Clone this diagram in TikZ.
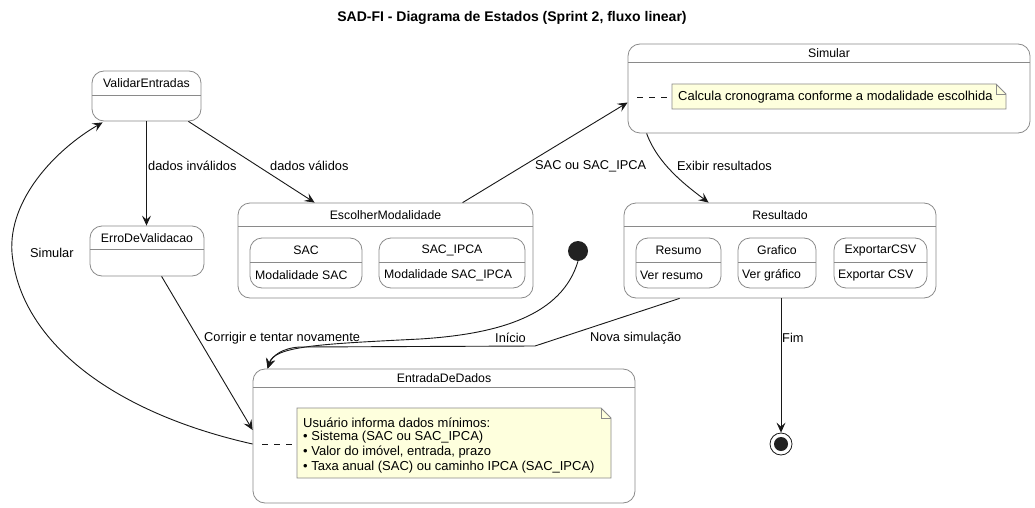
\documentclass[tikz,border=0pt]{standalone}
\usepackage{fontspec}
\setmainfont{Liberation Sans}
\usetikzlibrary{arrows.meta,calc,fit}
\definecolor{stborder}{HTML}{8A8A8A}
\definecolor{notefill}{HTML}{FEFFDD}
\definecolor{notebord}{HTML}{8A8A8A}
\definecolor{edgec}{HTML}{181818}
\definecolor{dotc}{HTML}{222222}
\newcommand\stbox[8]{% name, x1, y1, x2, y2, divider y, title, radius
  \node[stboxstyle, rounded corners=#8, fit={(#2,#3)(#4,#5)}] (#1) {};
  \draw[stborder, line width=0.8pt] (#2,#6) -- (#4,#6);
  \node[lbl] at ({(#2+#4)/2},{(#3+#6)/2+0.5}) {#7};
}
\begin{document}
\begin{tikzpicture}[x=1pt,y=-1pt,
  lbl/.style={inner sep=0pt, font=\fontsize{12.3}{14}\selectfont},
  lblw/.style={lbl, anchor=west},
  elbl/.style={inner sep=0pt, anchor=west, font=\fontsize{12.8}{15}\selectfont},
  nlbl/.style={inner sep=0pt, anchor=west, font=\fontsize{13}{15}\selectfont},
  stboxstyle/.style={draw=stborder, line width=0.8pt, inner sep=0pt, rectangle},
  edge/.style={draw=edgec, line width=0.9pt, -{Stealth[length=10pt,width=9pt,inset=4pt]}},
  notebox/.style={draw=notebord, fill=notefill, line width=0.8pt},
  notelink/.style={draw=edgec, line width=0.9pt, dash pattern=on 6pt off 6pt},
]
\useasboundingbox (0,0) rectangle (1035,508);
\fill[white] (0,0) rectangle (1035,508);

% title
\node[inner sep=0pt, font=\bfseries\fontsize{14}{16}\selectfont] (title) at (512,18) {SAD-FI - Diagrama de Estados (Sprint 2, fluxo linear)};

% states
\stbox{validar}{92}{71}{201}{121}{95}{ValidarEntradas}{12pt}
\stbox{erro}{90}{226}{204}{276}{249}{ErroDeValidacao}{12pt}
\stbox{escolher}{238}{203}{533}{298}{226}{EscolherModalidade}{12pt}
\stbox{sac}{250}{238}{362}{288}{262}{SAC}{12pt}
\stbox{sacipca}{379}{238}{525}{288}{262}{SAC\_IPCA}{12pt}
\node[lblw] (sacb) at (255,275) {Modalidade SAC};
\node[lblw] (sacipcab) at (384,275) {Modalidade SAC\_IPCA};

\stbox{simular}{628}{44}{1030}{133}{62}{Simular}{12pt}
\path[notebox] (672,84) -- (996,84) -- (1006,94) -- (1006,109) -- (672,109) -- cycle;
\draw[notebord, line width=0.8pt] (996,84) -- (996,94) -- (1006,94);
\node[nlbl] (note1) at (678,97.5) {Calcula cronograma conforme a modalidade escolhida};
\coordinate (n1a) at (637,97);
\coordinate (n1b) at (672,97);
\draw[notelink] (n1a) -- (n1b);

\stbox{resultado}{624}{203}{936}{298}{226}{Resultado}{12pt}
\stbox{resumo}{636}{238}{721}{288}{262}{Resumo}{12pt}
\stbox{grafico}{738}{238}{816}{288}{262}{Grafico}{12pt}
\stbox{exportar}{834}{238}{927}{288}{262}{ExportarCSV}{12pt}
\node[lblw] (resumob) at (640,275) {Ver resumo};
\node[lblw] (graficob) at (742,275) {Ver gráfico};
\node[lblw] (exportarb) at (838,275) {Exportar CSV};

\stbox{entrada}{253}{369}{635}{503}{387}{EntradaDeDados}{12pt}
\path[notebox] (297,408) -- (601,408) -- (611,418) -- (611,478) -- (297,478) -- cycle;
\draw[notebord, line width=0.8pt] (601,408) -- (601,418) -- (611,418);
\node[nlbl] (note2a) at (303,423) {Usuário informa dados mínimos:};
\node[nlbl] (note2b) at (303,437.5) {• Sistema (SAC ou SAC\_IPCA)};
\node[nlbl] (note2c) at (303,452.5) {• Valor do imóvel, entrada, prazo};
\node[nlbl] (note2d) at (303,467.5) {• Taxa anual (SAC) ou caminho IPCA (SAC\_IPCA)};
\coordinate (n2a) at (262,444);
\coordinate (n2b) at (297,444);
\draw[notelink] (n2a) -- (n2b);

% initial and final
\node[circle, fill=dotc, minimum size=20pt, inner sep=0pt] (init) at (578,251) {};
\node[circle, draw=edgec, line width=0.8pt, minimum size=22pt, inner sep=0pt] (final) at (781,444) {};
\node[circle, fill=dotc, minimum size=14pt, inner sep=0pt] (finaldot) at (781,444) {};

% transitions
\draw[edge] (validar.south) -- (validar.south |- erro.north);
\node[elbl] (l1) at (148,166) {dados inválidos};

\draw[edge] ($(validar.south east)+(-13,0)$) -- ($(escolher.north west)+(77,0)$);
\node[elbl] (l2) at (270,166) {dados válidos};

\draw[edge] ($(escolher.north west)+(225,0)$) -- ($(simular.west)+(0,14)$);
\node[elbl] (l3) at (535,166) {SAC ou SAC\_IPCA};

\draw[edge] ($(simular.south west)+(19,0)$) .. controls (658,165) and (688,187) .. ($(resultado.north west)+(85,0)$);
\node[elbl] (l4) at (677,166) {Exibir resultados};

\draw[edge] (resultado.south -| final.north) -- (final.north);
\node[elbl] (l5) at (782,338) {Fim};

\coordinate (entin) at ($(entrada.north west)+(15,0)$);
\draw[edge] (init.south) .. controls (562,315) and (500,334) .. (420,339) .. controls (320,344) and (274,346) .. (entin);
\node[elbl] (l6) at (495,338) {Início};

\draw[edge] ($(resultado.south west)+(56,0)$) -- (535,346) -- (300,347) .. controls (282,348) and (272,356) .. (entin);
\node[elbl] (l7) at (590,338) {Nova simulação};

\draw[edge] ($(erro.south west)+(72,0)$) -- ($(entrada.west)+(0,-6)$);
\node[elbl] (l8) at (204,338) {Corrigir e tentar novamente};

\draw[edge] ($(entrada.west)+(0,8)$) .. controls (110,412) and (20,340) .. (12,253) .. controls (8,200) and (55,150) .. ($(validar.south west)+(11,1)$);
\node[elbl] (l9) at (30,253) {Simular};
\end{tikzpicture}
\end{document}
